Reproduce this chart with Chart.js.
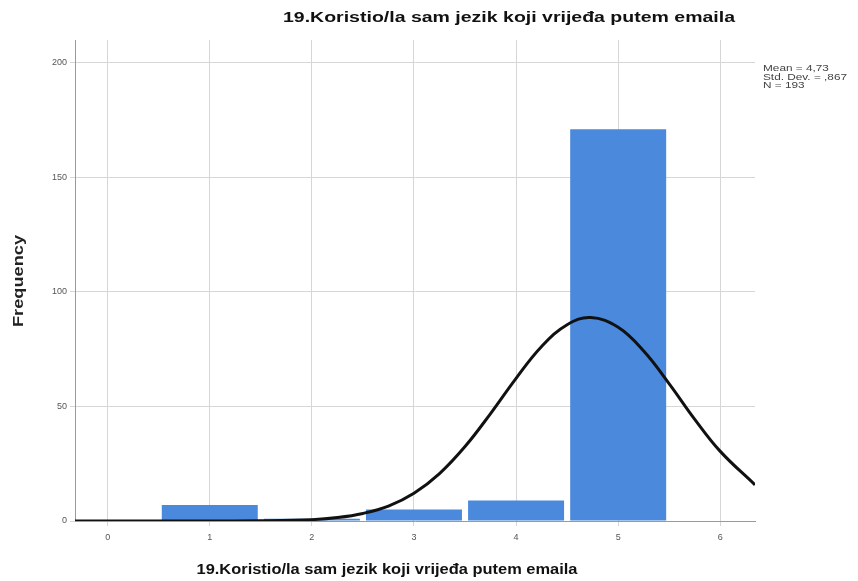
<!DOCTYPE html>
<html>
<head>
<meta charset="utf-8">
<script src="https://cdn.jsdelivr.net/npm/chart.js@4"></script>
<style>
html,body{margin:0;padding:0;background:#fff;}
#wrap{width:858px;height:581px;position:relative;}
</style>
</head>
<body>
<div id="wrap"><canvas id="c" width="858" height="581"></canvas></div>
<script>
const chartTitle = "19.Koristio/la sam jezik koji vrijeđa putem emaila";
const xAxisTitle = "19.Koristio/la sam jezik koji vrijeđa putem emaila";
const yAxisTitle = "Frequency";
const statsLines = ["Mean = 4,73", "Std. Dev. = ,867", "N = 193"];

const categories = [1, 2, 3, 4, 5];
const frequencies = [7, 1, 5, 9, 171];

const curveX = [-0.32, 0, 0.5, 1, 1.5, 2, 2.25, 2.5, 2.75, 3, 3.25, 3.5, 3.75, 4, 4.25, 4.5, 4.73, 5, 5.25, 5.5, 5.75, 6, 6.34];
const curveY = [0, 0, 0, 0.01, 0.1, 0.6, 1.5, 3.3, 6.5, 12.1, 20.7, 32.5, 46.9, 62.3, 76.2, 85.7, 88.8, 84.6, 74.2, 59.9, 44.4, 30.4, 15.8];

const xTicks = [0, 1, 2, 3, 4, 5, 6];
const yTicks = [0, 50, 100, 150, 200];

const barData = categories.map((c, i) => ({x: c, y: frequencies[i]}));
const curveData = curveX.map((x, i) => ({x: x, y: curveY[i]}));

// draw text centred at (x,y), stretched horizontally to a target width
function stretchText(ctx, text, x, y, targetWidth, rot) {
  const w = ctx.measureText(text).width;
  const sx = targetWidth / w;
  ctx.save();
  ctx.translate(x, y);
  if (rot) ctx.rotate(rot);
  ctx.scale(sx, 1);
  ctx.textAlign = 'center';
  ctx.fillText(text, 0, 0);
  ctx.restore();
}

const textPlugin = {
  id: 'texts',
  afterDraw(chart) {
    const ctx = chart.ctx;
    const a = chart.chartArea;
    ctx.save();
    ctx.textBaseline = 'middle';
    ctx.fillStyle = '#111';
    ctx.font = 'bold 14px "Liberation Sans", Arial, sans-serif';
    stretchText(ctx, chartTitle, 509, 18, 452);
    ctx.font = 'bold 14px "Liberation Sans", Arial, sans-serif';
    stretchText(ctx, xAxisTitle, 387, 570, 381);
    ctx.fillStyle = '#222';
    ctx.font = 'bold 14px "Liberation Sans", Arial, sans-serif';
    stretchText(ctx, yAxisTitle, 19, 281, 92, -Math.PI / 2);
    ctx.font = '9px "Liberation Sans", Arial, sans-serif';
    ctx.fillStyle = '#444';
    const wMax = Math.max(...statsLines.map(s => ctx.measureText(s).width));
    const sx = 84 / wMax;
    statsLines.forEach((s, i) => {
      ctx.save();
      ctx.translate(a.right + 8, 69 + i * 8.5);
      ctx.scale(sx, 1);
      ctx.textAlign = 'left';
      ctx.fillText(s, 0, 0);
      ctx.restore();
    });
    ctx.restore();
  }
};

new Chart(document.getElementById('c'), {
  type: 'bar',
  data: {
    datasets: [
      {
        type: 'line',
        data: curveData,
        borderColor: '#111',
        borderWidth: 3,
        pointRadius: 0,
        tension: 0.4,
        fill: false,
        order: 0
      },
      {
        type: 'bar',
        data: barData,
        backgroundColor: '#4a89dc',
        borderWidth: 0,
        barPercentage: 0.94,
        categoryPercentage: 1.0,
        order: 1
      }
    ]
  },
  plugins: [textPlugin],
  options: {
    responsive: false,
    animation: false,
    layout: {padding: {top: 40, right: 103, left: 0, bottom: 0}},
    plugins: {legend: {display: false}, tooltip: {enabled: false}, title: {display: false}},
    scales: {
      x: {
        type: 'linear',
        min: -0.32,
        max: 6.34,
        offset: false,
        afterBuildTicks(scale) { scale.ticks = xTicks.map(v => ({value: v})); },
        afterFit(scale) { scale.height = 60; },
        grid: {color: '#d6d6d6', lineWidth: 1, offset: false, drawTicks: true, tickLength: 5},
        border: {color: '#9a9a9a', width: 1},
        ticks: {color: '#555', font: {size: 9, family: '"Liberation Sans", Arial, sans-serif'}, padding: 6, maxRotation: 0},
        title: {display: false}
      },
      y: {
        min: 0,
        max: 210,
        afterBuildTicks(scale) { scale.ticks = yTicks.map(v => ({value: v})); },
        afterFit(scale) { scale.width = 75; },
        grid: {color: '#d6d6d6', lineWidth: 1, tickLength: 5},
        border: {color: '#9a9a9a', width: 1},
        ticks: {color: '#555', font: {size: 9, family: '"Liberation Sans", Arial, sans-serif'}, padding: 3},
        title: {display: false}
      }
    }
  }
});
</script>
</body>
</html>
